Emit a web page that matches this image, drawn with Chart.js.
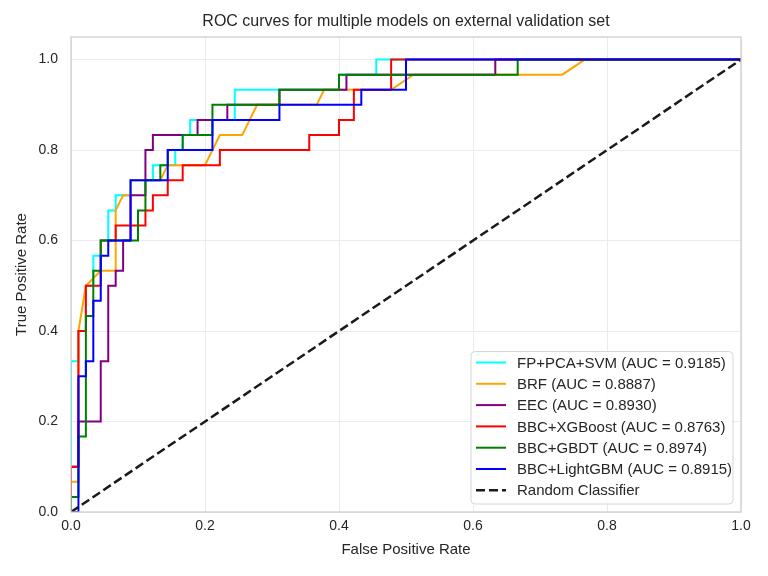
<!DOCTYPE html>
<html>
<head>
<meta charset="utf-8">
<script src="https://cdn.jsdelivr.net/npm/chart.js@4/dist/chart.umd.min.js"></script>
<style>
  html, body { margin: 0; padding: 0; background: #fff; }
  #wrap { width: 768px; height: 576px; }
</style>
</head>
<body>
<div id="wrap"><canvas id="roc"></canvas></div>
<script>
'use strict';

// ROC points (fpr / tpr per model)
const svmFpr = [0, 0, 0.0111, 0.0111, 0.0222, 0.0222, 0.0333, 0.0333, 0.0444, 0.0444, 0.0556, 0.0556, 0.0667, 0.0667, 0.0889, 0.0889, 0.1222, 0.1222, 0.1556, 0.1556, 0.1667, 0.1667, 0.1778, 0.1778, 0.2444, 0.2444, 0.4, 0.4, 0.4556, 0.4556, 1];
const svmTpr = [0, 0.3333, 0.3333, 0.4, 0.4, 0.5, 0.5, 0.5667, 0.5667, 0.6, 0.6, 0.6667, 0.6667, 0.7, 0.7, 0.7333, 0.7333, 0.7667, 0.7667, 0.8, 0.8, 0.8333, 0.8333, 0.8667, 0.8667, 0.9333, 0.9333, 0.9667, 0.9667, 1, 1];

const brfFpr = [0, 0, 0.0111, 0.0111, 0.0222, 0.0444, 0.0667, 0.0667, 0.0778, 0.0889, 0.0889, 0.1333, 0.1444, 0.2, 0.2222, 0.2556, 0.2778, 0.3667, 0.3778, 0.4778, 0.5111, 0.7333, 0.7667, 1];
const brfTpr = [0, 0.0667, 0.0667, 0.4, 0.5, 0.5333, 0.5333, 0.6667, 0.7, 0.7, 0.7333, 0.7333, 0.7667, 0.7667, 0.8333, 0.8333, 0.9, 0.9, 0.9333, 0.9333, 0.9667, 0.9667, 1, 1];

const eecFpr = [0, 0, 0.0111, 0.0111, 0.0444, 0.0444, 0.0556, 0.0556, 0.0667, 0.0667, 0.0778, 0.0778, 0.0889, 0.0889, 0.1111, 0.1111, 0.1222, 0.1222, 0.1889, 0.1889, 0.2333, 0.2333, 0.3111, 0.3111, 0.4111, 0.4111, 0.6333, 0.6333, 1];
const eecTpr = [0, 0.1, 0.1, 0.2, 0.2, 0.3333, 0.3333, 0.5, 0.5, 0.5333, 0.5333, 0.6, 0.6, 0.7, 0.7, 0.8, 0.8, 0.8333, 0.8333, 0.8667, 0.8667, 0.9, 0.9, 0.9333, 0.9333, 0.9667, 0.9667, 1, 1];

const xgbFpr = [0, 0, 0.0111, 0.0111, 0.0222, 0.0222, 0.0444, 0.0444, 0.0667, 0.0667, 0.1111, 0.1111, 0.1222, 0.1222, 0.1444, 0.1444, 0.1667, 0.1667, 0.2222, 0.2222, 0.3556, 0.3556, 0.4, 0.4, 0.4222, 0.4222, 0.4778, 0.4778, 1];
const xgbTpr = [0, 0.1, 0.1, 0.4, 0.4, 0.5, 0.5, 0.6, 0.6, 0.6333, 0.6333, 0.6667, 0.6667, 0.7, 0.7, 0.7333, 0.7333, 0.7667, 0.7667, 0.8, 0.8, 0.8333, 0.8333, 0.8667, 0.8667, 0.9333, 0.9333, 1, 1];

const gbdtFpr = [0, 0, 0.0111, 0.0111, 0.0222, 0.0222, 0.0333, 0.0333, 0.0444, 0.0444, 0.1, 0.1, 0.1111, 0.1111, 0.1333, 0.1333, 0.1444, 0.1444, 0.1667, 0.1667, 0.2111, 0.2111, 0.3111, 0.3111, 0.4, 0.4, 0.6667, 0.6667, 1];
const gbdtTpr = [0, 0.0333, 0.0333, 0.1667, 0.1667, 0.4333, 0.4333, 0.5333, 0.5333, 0.6, 0.6, 0.6667, 0.6667, 0.7333, 0.7333, 0.7667, 0.7667, 0.8, 0.8, 0.8333, 0.8333, 0.9, 0.9, 0.9333, 0.9333, 0.9667, 0.9667, 1, 1];

const lgbmFpr = [0, 0.0111, 0.0111, 0.0222, 0.0222, 0.0333, 0.0333, 0.0444, 0.0444, 0.0556, 0.0556, 0.0889, 0.0889, 0.1444, 0.1444, 0.2111, 0.2111, 0.3111, 0.3111, 0.4333, 0.4333, 0.5, 0.5, 1];
const lgbmTpr = [0, 0, 0.3, 0.3, 0.3333, 0.3333, 0.4667, 0.4667, 0.5667, 0.5667, 0.6, 0.6, 0.7333, 0.7333, 0.8, 0.8, 0.8667, 0.8667, 0.9, 0.9, 0.9333, 0.9333, 1, 1];

const randomFpr = [0, 1];
const randomTpr = [0, 1];

const modelNames = ['FP+PCA+SVM', 'BRF', 'EEC', 'BBC+XGBoost', 'BBC+GBDT', 'BBC+LightGBM'];
const aucValues = [0.9185, 0.8887, 0.8930, 0.8763, 0.8974, 0.8915];
const modelColors = ['cyan', 'orange', 'purple', 'red', 'green', 'blue'];
const fprSeries = [svmFpr, brfFpr, eecFpr, xgbFpr, gbdtFpr, lgbmFpr];
const tprSeries = [svmTpr, brfTpr, eecTpr, xgbTpr, gbdtTpr, lgbmTpr];

const axisTicks = [0, 0.2, 0.4, 0.6, 0.8, 1.0];

const FONT = '"Liberation Sans", Arial, sans-serif';
const TEXT_COLOR = '#262626';

function toPoints(xs, ys) {
    return xs.map(function(x, i) { return { x: x, y: ys[i] }; });
}

const datasets = modelNames.map(function(name, i) {
    return {
        label: name + ' (AUC = ' + aucValues[i].toFixed(4) + ')',
        data: toPoints(fprSeries[i], tprSeries[i]),
        borderColor: modelColors[i],
        backgroundColor: modelColors[i],
        borderWidth: 2,
        showLine: true,
        pointRadius: 0,
        tension: 0,
        order: modelNames.length - i
    };
});

datasets.push({
    label: 'Random Classifier',
    data: toPoints(randomFpr, randomTpr),
    borderColor: '#1a1a1a',
    backgroundColor: '#1a1a1a',
    borderWidth: 2.5,
    borderDash: [9, 4],
    showLine: true,
    pointRadius: 0,
    order: 0
});

// frame, title, axis labels and the in-plot legend
const decorPlugin = {
    id: 'decor',
    afterDraw: function(chart) {
        const ctx = chart.ctx;
        const a = chart.chartArea;
        ctx.save();

        ctx.strokeStyle = '#cccccc';
        ctx.lineWidth = 1.25;
        ctx.strokeRect(a.left, a.top, a.right - a.left, a.bottom - a.top);

        ctx.fillStyle = TEXT_COLOR;
        ctx.textAlign = 'center';
        ctx.textBaseline = 'middle';
        ctx.font = '16px ' + FONT;
        ctx.fillText('ROC curves for multiple models on external validation set', (a.left + a.right) / 2, 22);

        ctx.font = '15px ' + FONT;
        ctx.fillText('False Positive Rate', (a.left + a.right) / 2, 550);
        ctx.save();
        ctx.translate(22, (a.top + a.bottom) / 2);
        ctx.rotate(-Math.PI / 2);
        ctx.fillText('True Positive Rate', 0, 0);
        ctx.restore();

        // legend box
        const bx = 471, by = 351.5, bw = 262, bh = 152.5, r = 4;
        ctx.beginPath();
        ctx.moveTo(bx + r, by);
        ctx.lineTo(bx + bw - r, by);
        ctx.arcTo(bx + bw, by, bx + bw, by + r, r);
        ctx.lineTo(bx + bw, by + bh - r);
        ctx.arcTo(bx + bw, by + bh, bx + bw - r, by + bh, r);
        ctx.lineTo(bx + r, by + bh);
        ctx.arcTo(bx, by + bh, bx, by + bh - r, r);
        ctx.lineTo(bx, by + r);
        ctx.arcTo(bx, by, bx + r, by, r);
        ctx.closePath();
        ctx.fillStyle = 'rgba(255,255,255,0.85)';
        ctx.fill();
        ctx.strokeStyle = '#d6d6d6';
        ctx.lineWidth = 1;
        ctx.stroke();

        ctx.textAlign = 'left';
        ctx.font = '15px ' + FONT;
        chart.data.datasets.forEach(function(ds, i) {
            const y = 362.5 + i * 21.3;
            ctx.beginPath();
            ctx.strokeStyle = ds.borderColor;
            ctx.lineWidth = ds.borderWidth;
            ctx.setLineDash(ds.borderDash || []);
            ctx.moveTo(476, y);
            ctx.lineTo(506, y);
            ctx.stroke();
            ctx.setLineDash([]);
            ctx.fillStyle = TEXT_COLOR;
            ctx.fillText(ds.label, 517, y + 1);
        });

        ctx.restore();
    }
};

function fixedTicks(axis) {
    axis.ticks = axisTicks.map(function(v) { return { value: v }; });
}

new Chart(document.getElementById('roc'), {
    type: 'scatter',
    data: { datasets: datasets },
    options: {
        responsive: true,
        maintainAspectRatio: false,
        devicePixelRatio: 1,
        animation: false,
        layout: { padding: { left: 0, top: 37, right: 27, bottom: 0 } },
        plugins: {
            legend: { display: false },
            title: { display: false },
            tooltip: { enabled: false }
        },
        scales: {
            x: {
                type: 'linear',
                min: 0,
                max: 1,
                afterBuildTicks: fixedTicks,
                afterFit: function(scale) { scale.height = 64; },
                border: { display: false },
                grid: { color: '#ebebeb', lineWidth: 1, drawTicks: false },
                ticks: {
                    padding: 6,
                    color: TEXT_COLOR,
                    font: { size: 14, family: FONT },
                    callback: function(v) { return v.toFixed(1); }
                }
            },
            y: {
                type: 'linear',
                min: 0,
                max: 1.05,
                afterBuildTicks: fixedTicks,
                afterFit: function(scale) { scale.width = 71; },
                border: { display: false },
                grid: { color: '#ebebeb', lineWidth: 1, drawTicks: false },
                ticks: {
                    padding: 13,
                    color: TEXT_COLOR,
                    font: { size: 14, family: FONT },
                    callback: function(v) { return v.toFixed(1); }
                }
            }
        }
    },
    plugins: [decorPlugin]
});
</script>
</body>
</html>
